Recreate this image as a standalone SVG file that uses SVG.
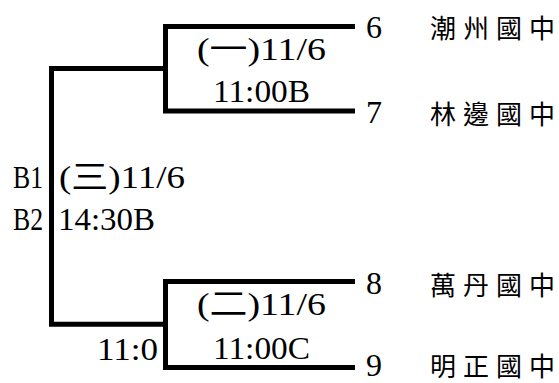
<svg xmlns="http://www.w3.org/2000/svg" width="559" height="383" viewBox="0 0 559 383">
<style>
.ln{fill:none;stroke:#000;stroke-width:5;stroke-linejoin:miter;stroke-linecap:butt}
.t{font-family:'Liberation Serif','DejaVu Serif','Noto Sans CJK TC',serif;font-size:32px;fill:#000}
.s{font-family:'Noto Sans CJK TC',sans-serif;font-size:26px;fill:#000}
</style>
<rect width="559" height="383" fill="#fff"/>
<g id="connectors">
<polyline class="ln" points="355,26.5 165.5,26.5 165.5,111 355,111"/>
<polyline class="ln" points="355,281.5 165.5,281.5 165.5,367.5 355,367.5"/>
<polyline class="ln" points="165.5,68.5 51.5,68.5 51.5,324.2 165.5,324.2"/>
</g>
<g id="match-1">
<text class="t" x="197" y="60" textLength="129" lengthAdjust="spacingAndGlyphs">(一)11/6</text>
<text class="t" x="213" y="102" textLength="97" lengthAdjust="spacingAndGlyphs">11:00B</text>
</g>
<g id="match-2">
<text class="t" x="197" y="315" textLength="129" lengthAdjust="spacingAndGlyphs">(二)11/6</text>
<text class="t" x="213" y="359" textLength="97" lengthAdjust="spacingAndGlyphs">11:00C</text>
</g>
<g id="match-3">
<text class="t" x="13" y="188" textLength="30" lengthAdjust="spacingAndGlyphs">B1</text>
<text class="t" x="59" y="188" textLength="126" lengthAdjust="spacingAndGlyphs">(三)11/6</text>
<text class="t" x="13" y="230" textLength="30" lengthAdjust="spacingAndGlyphs">B2</text>
<text class="t" x="58" y="230" textLength="97" lengthAdjust="spacingAndGlyphs">14:30B</text>
<text class="t" x="97" y="360" textLength="61" lengthAdjust="spacingAndGlyphs">11:0</text>
</g>
<g id="team-6">
<text class="t" x="366" y="38">6</text>
<text class="s" x="430 463 496 529" y="38">潮州國中</text>
</g>
<g id="team-7">
<text class="t" x="366" y="123">7</text>
<text class="s" x="430 463 496 529" y="124">林邊國中</text>
</g>
<g id="team-8">
<text class="t" x="366" y="294">8</text>
<text class="s" x="430 463 496 529" y="295">萬丹國中</text>
</g>
<g id="team-9">
<text class="t" x="366" y="376">9</text>
<text class="s" x="430 463 496 529" y="376">明正國中</text>
</g>
</svg>
